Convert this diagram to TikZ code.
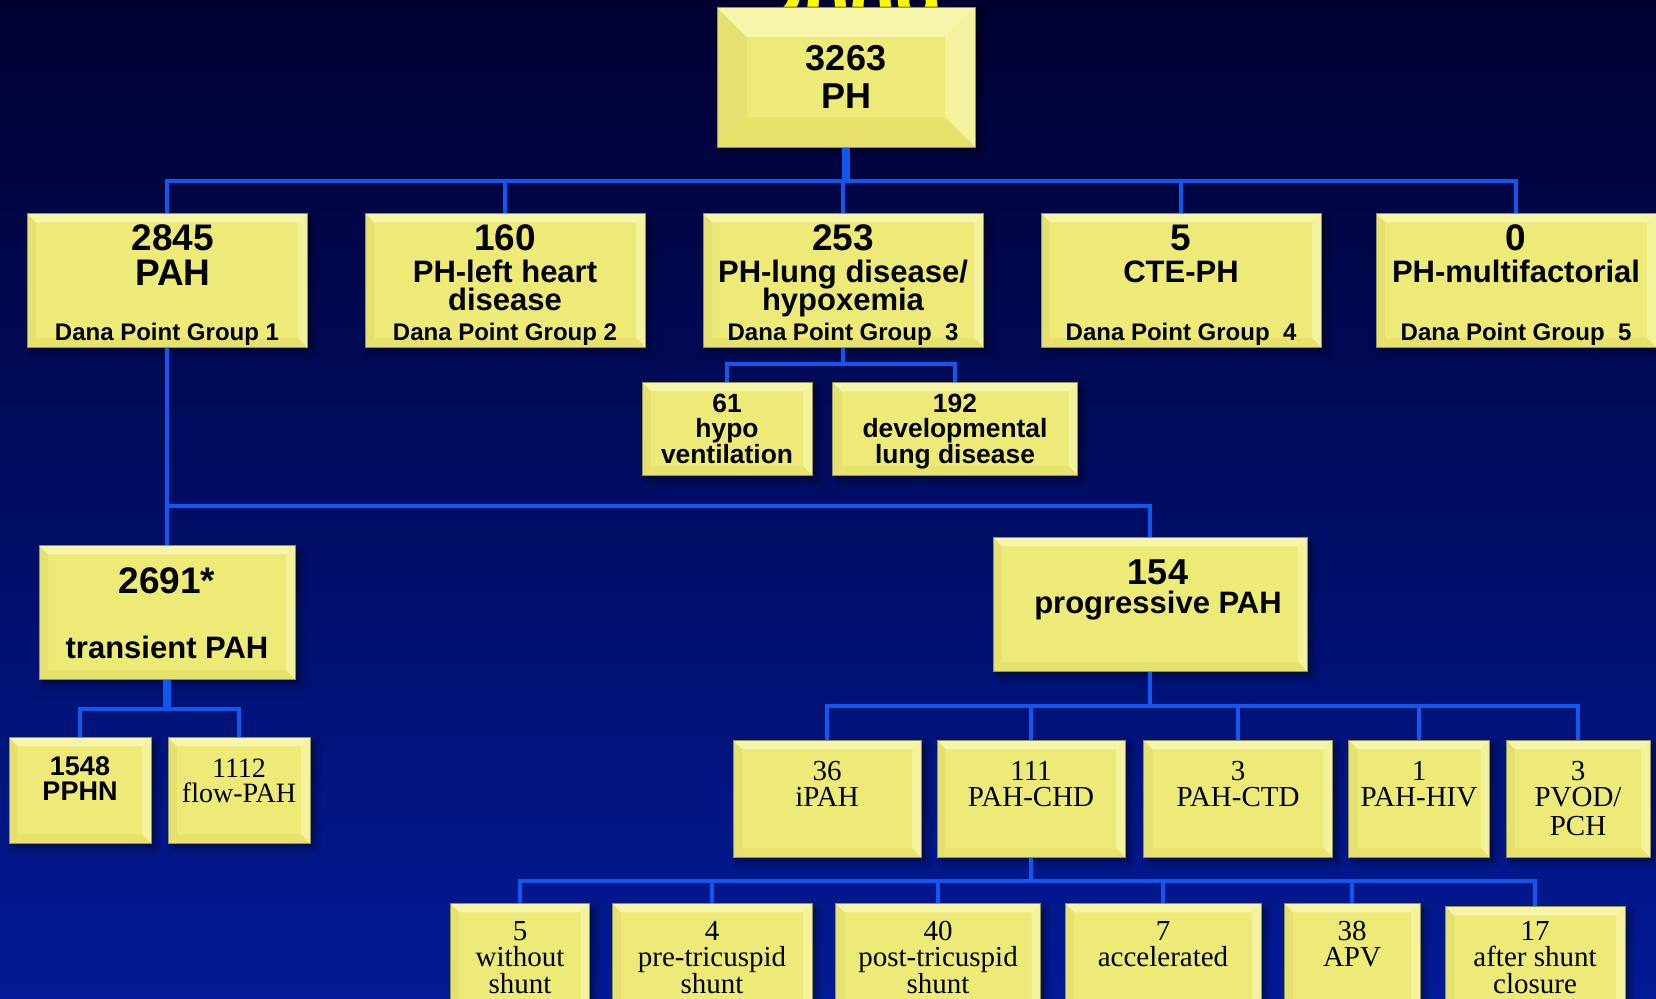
\documentclass[tikz,border=0pt]{standalone}
\usepackage{fontspec}
\setmainfont{Liberation Serif}
\setsansfont{Liberation Sans}
\usetikzlibrary{shadows.blur}

\definecolor{skytop}{RGB}{0,0,48}
\definecolor{skybottom}{RGB}{2,26,150}
\definecolor{boxyellow}{RGB}{237,234,120}
\definecolor{bevlight}{RGB}{247,245,170}
\definecolor{bevside}{RGB}{229,225,112}
\definecolor{bevright}{RGB}{244,242,156}
\definecolor{bevlow}{RGB}{230,226,108}
\definecolor{boxedge}{RGB}{150,148,88}
\definecolor{linkblue}{RGB}{18,88,238}
\definecolor{yeargold}{RGB}{250,248,0}

% font size with a fixed line pitch, and centred lines
\newcommand{\fs}[1]{\fontsize{#1}{28pt}\selectfont}
\newcommand{\gap}[1]{\noalign{\vskip#1}}
\newcommand{\rows}[1]{\vtop{\baselineskip=28pt\lineskiplimit=-100pt\def\\{\cr}\halign{\hfil##\hfil\cr#1\crcr}}}

\begin{document}
\begin{tikzpicture}[x=1pt, y=-1pt,
    bevel/.style={path picture={
        \fill[bevside] (path picture bounding box.north west) -- (path picture bounding box.south west)
            -- ([xshift=#1,yshift=#1]path picture bounding box.south west)
            -- ([xshift=#1,yshift=-#1]path picture bounding box.north west) -- cycle;
        \fill[bevright] (path picture bounding box.north east) -- (path picture bounding box.south east)
            -- ([xshift=-#1,yshift=#1]path picture bounding box.south east)
            -- ([xshift=-#1,yshift=-#1]path picture bounding box.north east) -- cycle;
        \fill[bevlight] (path picture bounding box.north west) -- (path picture bounding box.north east)
            -- ([xshift=-#1,yshift=-#1]path picture bounding box.north east)
            -- ([xshift=#1,yshift=-#1]path picture bounding box.north west) -- cycle;
        \fill[bevlow] (path picture bounding box.south west) -- (path picture bounding box.south east)
            -- ([xshift=-#1,yshift=#1]path picture bounding box.south east)
            -- ([xshift=#1,yshift=#1]path picture bounding box.south west) -- cycle;
    }},
    cell/.style={anchor=north, inner sep=0pt, fill=boxyellow, draw=boxedge, line width=0.5pt, bevel=9pt,
        blur shadow={shadow xshift=5pt, shadow yshift=-5pt, shadow blur radius=6pt, shadow opacity=45}},
    boldbox/.style={cell, font=\sffamily\bfseries\fs{31pt}},
    plainbox/.style={cell, font=\rmfamily\fs{29pt}},
    group/.style={boldbox, minimum width=280pt, text height=37pt, text depth=97pt},
    lungkid/.style={boldbox, font=\sffamily\bfseries\fs{26.4pt}, minimum width=#1, text height=30pt, text depth=63pt},
    kind/.style={plainbox, minimum width=#1, text height=40pt, text depth=77pt},
    shunt/.style={plainbox, minimum width=#1, text height=37pt, text depth=80pt},
    link/.style={draw=linkblue, line width=4pt},
    trunk/.style={link, line width=8pt},
    year/.style={anchor=base, inner sep=0pt, text=yeargold, font=\sffamily\bfseries\fs{82pt}}
]

% Background
\useasboundingbox (0,0) rectangle (1656,998);
\fill[top color=skytop, bottom color=skybottom] (0,0) rectangle (1656,998);
\node[year] (yr) at (850,40) {2009};

% Root
\node[boldbox, font=\sffamily\bfseries\fs{36pt}, bevel=30pt, minimum width=258pt, text height=63pt, text depth=77pt]
    (ph) at (846,7) {\rows{3263\\\gap{10pt}PH}};

% Dana Point groups
\node[group] (pah) at (167,213) {\rows{\fs{37pt}\hspace*{12pt}2845\\\gap{7pt}\fs{37pt}\hspace*{12pt}PAH\\\gap{27pt}\fs{24pt}Dana Point Group 1}};
\node[group] (left) at (505,213) {\rows{\fs{37pt}160\\\gap{4pt}PH-left heart\\disease\\\gap{2pt}\fs{24pt}Dana Point Group 2}};
\node[group] (lung) at (843,213) {\rows{\fs{37pt}253\\\gap{4pt}PH-lung disease/\\hypoxemia\\\gap{2pt}\fs{24pt}Dana Point Group\ \ 3}};
\node[group] (cte) at (1181,213) {\rows{\fs{37pt}5\\\gap{4pt}CTE-PH\\\gap{30pt}\fs{24pt}Dana Point Group\ \ 4}};
\node[group] (multi) at (1516,213) {\rows{\fs{37pt}0\\\gap{4pt}PH-multifactorial\\\gap{30pt}\fs{24pt}Dana Point Group\ \ 5}};

% Group 3 split
\node[lungkid=170pt] (hypo) at (727,382) {\rows{61\\\gap{-3pt}hypo\\\gap{-2pt}ventilation}};
\node[lungkid=245pt] (devel) at (955,382) {\rows{192\\\gap{-3pt}developmental\\\gap{-2pt}lung disease}};

% Transient and progressive PAH
\node[boldbox, minimum width=256pt, text height=48pt, text depth=86pt]
    (trans) at (167,545) {\rows{\fs{37pt}2691*\\\gap{37pt}transient PAH}};
\node[boldbox, minimum width=314pt, text height=47pt, text depth=87pt]
    (prog) at (1150,537) {\hspace*{16pt}\rows{\fs{36pt}154\\\gap{1pt}progressive PAH}};

\node[boldbox, font=\sffamily\bfseries\fs{27pt}, minimum width=142pt, text height=38pt, text depth=68pt]
    (pphn) at (80,737) {\rows{1548\\\gap{-3pt}PPHN}};
\node[plainbox, font=\rmfamily\fs{28pt}, minimum width=142pt, text height=40pt, text depth=66pt]
    (flow) at (239,737) {\rows{1112\\\gap{-3pt}flow-PAH}};

% Progressive PAH subtypes
\node[kind=188pt] (ipah) at (827,740) {\rows{36\\\gap{-2pt}iPAH}};
\node[kind=188pt] (chd) at (1031,740) {\rows{111\\\gap{-2pt}PAH-CHD}};
\node[kind=189pt] (ctd) at (1238,740) {\rows{3\\\gap{-2pt}PAH-CTD}};
\node[kind=141pt] (hiv) at (1419,740) {\rows{1\\\gap{-2pt}PAH-HIV}};
\node[kind=144pt] (pvod) at (1578,740) {\rows{3\\\gap{-2pt}PVOD/\\\gap{1pt}PCH}};

% PAH-CHD subtypes
\node[shunt=139pt] (nosh) at (520,903) {\rows{5\\\gap{-1.5pt}without\\\gap{-1.5pt}shunt}};
\node[shunt=200pt] (pre) at (712,903) {\rows{4\\\gap{-1.5pt}pre-tricuspid\\\gap{-1.5pt}shunt}};
\node[shunt=205pt] (post) at (938,903) {\rows{40\\\gap{-1.5pt}post-tricuspid\\\gap{-1.5pt}shunt}};
\node[shunt=196pt] (accel) at (1163,903) {\rows{7\\\gap{-1.5pt}accelerated}};
\node[shunt=136pt] (apv) at (1352,903) {\rows{38\\\gap{-1.5pt}APV}};
\node[shunt=180pt, text height=34pt, text depth=83pt] (closure) at (1535,906) {\rows{17\\\gap{-1.5pt}after shunt\\\gap{-1.5pt}closure}};

% Connectors
\draw[trunk] (ph.south) -- ++(0,33);
\foreach \kid in {pah,left,lung,cte,multi}
    \draw[link] (ph.south) -- ++(0,33) -| (\kid.north);
\foreach \kid in {hypo,devel}
    \draw[link] (lung.south) -- ++(0,16) -| (\kid.north);
\draw[link] (pah.south) -- (trans.north);
\draw[link] (pah.south) -- ++(0,158) -| (prog.north);
\draw[trunk] (trans.south) -- ++(0,29);
\foreach \kid in {pphn,flow}
    \draw[link] (trans.south) -- ++(0,29) -| (\kid.north);
\foreach \kid in {ipah,chd,ctd,hiv,pvod}
    \draw[link] (prog.south) -- ++(0,34) -| (\kid.north);
\foreach \kid in {nosh,pre,post,accel,apv,closure}
    \draw[link] (chd.south) -- ++(0,23) -| (\kid.north);

\end{tikzpicture}
\end{document}
